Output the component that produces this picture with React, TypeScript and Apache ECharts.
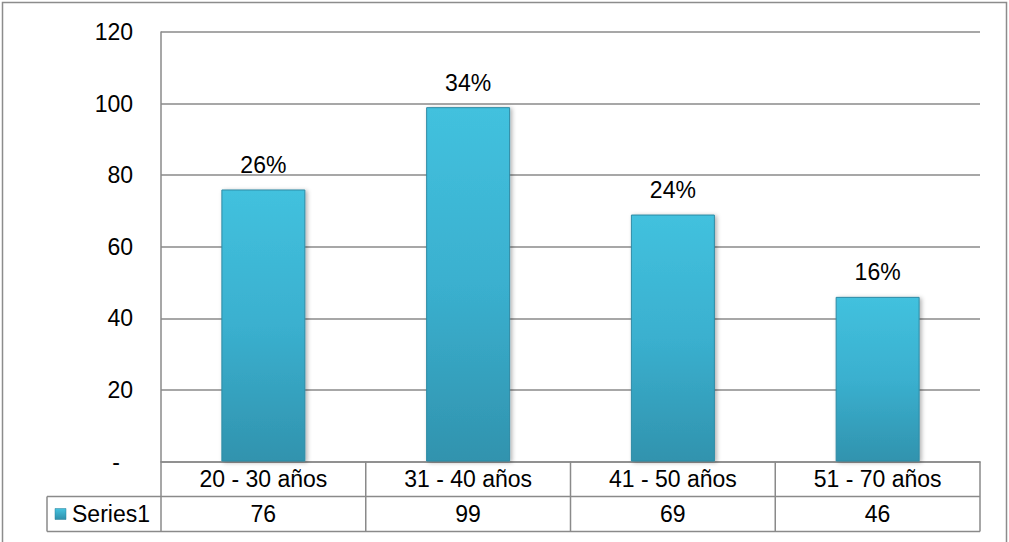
import React, { useEffect, useRef } from "react";
import * as echarts from "echarts";

const categories = ["20 - 30 años", "31 - 40 años", "41 - 50 años", "51 - 70 años"];
const values = [76, 99, 69, 46];
const percentLabels = ["26%", "34%", "24%", "16%"];
const yMin = 0;
const yMax = 120;
const yInterval = 20;
const seriesName = "Series1";

const W = 1009;
const H = 542;
const GL = 161;
const GR = 980;
const GT = 32;
const GB = 461.5;
const ROW = 35;
const LEFT_COL = 47;
const LINE = "#8a8a8a";
const FONT = "'Liberation Sans', Arial, sans-serif";
const FS = 23;

export default function App() {
  const ref = useRef<HTMLDivElement>(null);
  useEffect(() => {
    if (!ref.current) return;
    const chart = echarts.init(ref.current, undefined, { renderer: "svg" });
    const colW = (GR - GL) / categories.length;
    const lineStyle = { stroke: LINE, lineWidth: 1.5 };
    const graphic: any[] = [
      { type: "rect", shape: { x: 2.5, y: 2.5, width: 1004, height: 600 }, style: { fill: "none", stroke: "#8c8c8c", lineWidth: 1.5 }, z: 0 },
      { type: "line", shape: { x1: GL, y1: GB, x2: GL, y2: GB + 2 * ROW }, style: lineStyle },
      { type: "line", shape: { x1: LEFT_COL, y1: GB + ROW, x2: LEFT_COL, y2: GB + 2 * ROW }, style: lineStyle },
      { type: "line", shape: { x1: LEFT_COL, y1: GB + ROW, x2: GR, y2: GB + ROW }, style: lineStyle },
      { type: "line", shape: { x1: LEFT_COL, y1: GB + 2 * ROW, x2: GR, y2: GB + 2 * ROW }, style: lineStyle },
      {
        type: "rect",
        shape: { x: 55, y: GB + ROW + 12, width: 11, height: 11 },
        style: {
          fill: new echarts.graphic.LinearGradient(0, 0, 0, 1, [
            { offset: 0, color: "#45c3df" },
            { offset: 1, color: "#2f8fab" },
          ]),
          stroke: "#2a7f98",
          lineWidth: 0.5,
        },
      },
      {
        type: "text",
        x: 72,
        y: GB + ROW + ROW / 2,
        style: { text: seriesName, font: `${FS}px ${FONT}`, fill: "#000", verticalAlign: "middle", align: "left" },
      },
    ];
    for (let i = 1; i <= categories.length; i++) {
      const x = GL + i * colW;
      graphic.push({ type: "line", shape: { x1: x, y1: GB, x2: x, y2: GB + 2 * ROW }, style: lineStyle });
    }
    chart.setOption({
      animation: false,
      grid: { left: GL, right: W - GR, top: GT, bottom: H - GB },
      xAxis: [
        {
          type: "category",
          data: categories,
          axisLine: { show: true, lineStyle: { color: LINE, width: 1.5 } },
          axisTick: { show: false },
          axisLabel: { color: "#000", fontFamily: FONT, fontSize: FS, margin: 0, lineHeight: ROW, interval: 0 },
        },
        {
          type: "category",
          position: "bottom",
          offset: ROW,
          data: values.map((v) => String(v)),
          axisLine: { show: false },
          axisTick: { show: false },
          axisLabel: { color: "#000", fontFamily: FONT, fontSize: FS, margin: 0, lineHeight: ROW, interval: 0 },
        },
      ],
      yAxis: {
        type: "value",
        min: yMin,
        max: yMax,
        interval: yInterval,
        axisLine: { show: true, lineStyle: { color: LINE, width: 1.5 } },
        axisTick: { show: false },
        splitLine: { show: true, lineStyle: { color: LINE, width: 1.5 } },
        axisLabel: {
          color: "#000",
          fontFamily: FONT,
          fontSize: FS,
          margin: 28,
          formatter: (v: number) => (v === 0 ? "{d|-}" : String(v)),
          rich: { d: { color: "#000", fontFamily: FONT, fontSize: FS, padding: [0, 13, 0, 0] } },
        },
      },
      series: [
        {
          name: seriesName,
          type: "bar",
          xAxisIndex: 0,
          data: values,
          barWidth: 84,
          itemStyle: {
            color: new echarts.graphic.LinearGradient(0, 0, 0, 1, [
              { offset: 0, color: "#42c1de" },
              { offset: 0.5, color: "#3ab0cf" },
              { offset: 1, color: "#3193ae" },
            ]),
            borderColor: "#2e8aa4",
            borderWidth: 1,
            shadowBlur: 4,
            shadowColor: "rgba(0,0,0,0.3)",
            shadowOffsetX: 2,
            shadowOffsetY: 1,
          },
          label: {
            show: true,
            position: "top",
            distance: 13,
            color: "#000",
            fontFamily: FONT,
            fontSize: FS,
            formatter: (p: any) => percentLabels[p.dataIndex],
          },
        },
      ],
      graphic,
    });
    return () => chart.dispose();
  }, []);
  return <div ref={ref} style={{ position: "fixed", left: 0, top: 0, width: W, height: H, background: "#fff" }} />;
}
